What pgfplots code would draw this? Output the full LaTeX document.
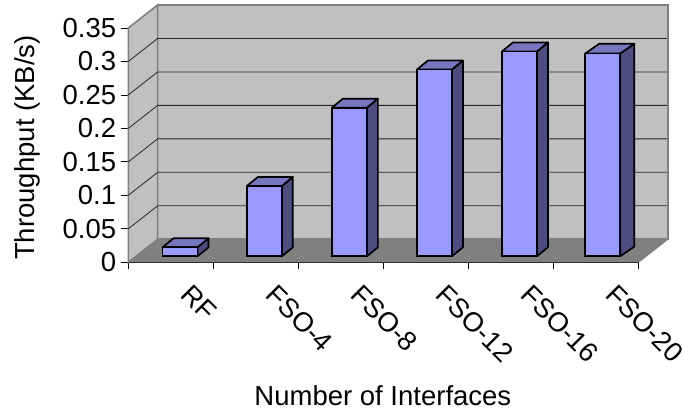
\documentclass[border=0pt]{standalone}
\usepackage{pgfplots}
\usepackage{fontspec}
\setmainfont{Liberation Sans}
\pgfplotsset{compat=1.18}
\definecolor{wall}{HTML}{C0C0C0}
\definecolor{floorc}{HTML}{808080}
\definecolor{barf}{HTML}{9999FF}
\definecolor{bars}{HTML}{4D4D80}
\definecolor{bart}{HTML}{7777BF}
\begin{document}
\begin{tikzpicture}[x=1pt,y=1pt]
\useasboundingbox (0,0) rectangle (684,412);
\begin{axis}[
  at={(128.3pt,149.7pt)}, anchor=south west,
  scale only axis, width=510.2pt, height=234.3pt,
  xmin=0, xmax=6, ymin=-0.009, ymax=0.341,
  clip=false,
  axis x line*=bottom, axis y line*=left,
  axis line style={black, line width=1pt, -},
  tick align=outside, major tick length=7pt,
  tick style={black, line width=0.8pt},
  xtick={0,1,2,3,4,5,6}, xticklabels={},
  extra x ticks={0.66,1.66,2.66,3.66,4.66,5.66},
  extra x tick labels={RF,FSO-4,FSO-8,FSO-12,FSO-16,FSO-20},
  extra x tick style={major tick length=0pt, tick style={draw=none},
    xticklabel style={rotate=-45, anchor=west, inner sep=0pt, font=\fontsize{27.2}{33}\selectfont, yshift=-18.5pt, xshift=21pt}},
  ytick={-0.009,0.041,0.091,0.141,0.191,0.241,0.291,0.341},
  yticklabels={0,0.05,0.1,0.15,0.2,0.25,0.3,0.35},
  yticklabel style={font=\fontsize{27.5}{33}\selectfont, inner xsep=1pt, xshift=-4pt},
  xlabel={Number of Interfaces},
  ylabel={Throughput (KB/s)},
  xlabel style={font=\fontsize{27.5}{33}\selectfont, at={(axis description cs:0.499,0)}, anchor=center, yshift=-133.7pt},
  ylabel style={font=\fontsize{27.5}{33}\selectfont, at={(axis description cs:0,0.49)}, anchor=center, yshift=101pt},
]
% walls and floor
\addplot[fill=wall, draw=floorc, line width=1.6pt, forget plot] coordinates {(0.345,0.0254)(6.345,0.0254)(6.345,0.3754)(0.345,0.3754)} -- cycle;
\addplot[fill=wall, draw=floorc, line width=1.6pt, forget plot] coordinates {(0,-0.009)(0.345,0.0254)(0.345,0.3754)(0,0.341)} -- cycle;
\addplot[fill=floorc, draw=none, forget plot] coordinates {(0,-0.009)(6,-0.009)(6.345,0.0254)(0.345,0.0254)} -- cycle;
\addplot[draw=floorc, line width=1pt, forget plot] coordinates {(6,-0.009)(6.345,0.0254)};
% gridlines on the walls
\addplot[black!85, line width=0.8pt, forget plot] coordinates {(0,0.041)(0.345,0.0754)(6.345,0.0754)};
\addplot[black!85, line width=0.8pt, forget plot] coordinates {(0,0.091)(0.345,0.1254)(6.345,0.1254)};
\addplot[black!85, line width=0.8pt, forget plot] coordinates {(0,0.141)(0.345,0.1754)(6.345,0.1754)};
\addplot[black!85, line width=0.8pt, forget plot] coordinates {(0,0.191)(0.345,0.2254)(6.345,0.2254)};
\addplot[black!85, line width=0.8pt, forget plot] coordinates {(0,0.241)(0.345,0.2754)(6.345,0.2754)};
\addplot[black!85, line width=0.8pt, forget plot] coordinates {(0,0.291)(0.345,0.3254)(6.345,0.3254)};
\addplot[floorc, line width=1.6pt, forget plot] coordinates {(0.345,0.3754)(6.345,0.3754)(6.345,0.0254)};
% bars: side and top faces
\addplot[fill=bars, draw=black, line width=1.7pt, line join=round, forget plot] coordinates {(0.815,0)(0.944,0.0134)(0.944,0.0269)(0.815,0.0135)} -- cycle;
\addplot[fill=bart, draw=black, line width=1.7pt, line join=round, forget plot] coordinates {(0.403,0.0135)(0.815,0.0135)(0.944,0.0269)(0.532,0.0269)} -- cycle;
\addplot[fill=bars, draw=black, line width=1.7pt, line join=round, forget plot] coordinates {(1.806,0)(1.935,0.0134)(1.935,0.1184)(1.806,0.105)} -- cycle;
\addplot[fill=bart, draw=black, line width=1.7pt, line join=round, forget plot] coordinates {(1.394,0.105)(1.806,0.105)(1.935,0.1184)(1.523,0.1184)} -- cycle;
\addplot[fill=bars, draw=black, line width=1.7pt, line join=round, forget plot] coordinates {(2.806,0)(2.935,0.0134)(2.935,0.2354)(2.806,0.222)} -- cycle;
\addplot[fill=bart, draw=black, line width=1.7pt, line join=round, forget plot] coordinates {(2.394,0.222)(2.806,0.222)(2.935,0.2354)(2.523,0.2354)} -- cycle;
\addplot[fill=bars, draw=black, line width=1.7pt, line join=round, forget plot] coordinates {(3.806,0)(3.935,0.0134)(3.935,0.2924)(3.806,0.279)} -- cycle;
\addplot[fill=bart, draw=black, line width=1.7pt, line join=round, forget plot] coordinates {(3.394,0.279)(3.806,0.279)(3.935,0.2924)(3.523,0.2924)} -- cycle;
\addplot[fill=bars, draw=black, line width=1.7pt, line join=round, forget plot] coordinates {(4.806,0)(4.935,0.0134)(4.935,0.3194)(4.806,0.306)} -- cycle;
\addplot[fill=bart, draw=black, line width=1.7pt, line join=round, forget plot] coordinates {(4.394,0.306)(4.806,0.306)(4.935,0.3194)(4.523,0.3194)} -- cycle;
\addplot[fill=bars, draw=black, line width=1.7pt, line join=round, forget plot] coordinates {(5.786,0)(5.951,0.0145)(5.951,0.3175)(5.786,0.303)} -- cycle;
\addplot[fill=bart, draw=black, line width=1.7pt, line join=round, forget plot] coordinates {(5.374,0.303)(5.786,0.303)(5.951,0.3175)(5.539,0.3175)} -- cycle;
% bars: front faces, the values
\addplot[ybar, bar width=35pt, bar shift=0pt, fill=barf, draw=black, line width=1.7pt] coordinates {(0.609,0.0135)(1.6,0.105)(2.6,0.222)(3.6,0.279)(4.6,0.306)(5.58,0.303)};
\end{axis}
\end{tikzpicture}
\end{document}
